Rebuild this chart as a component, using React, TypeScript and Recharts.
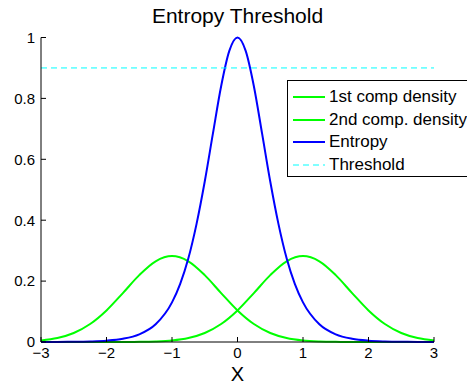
import React from 'react';
import { LineChart, Line, XAxis, YAxis } from 'recharts';

const X_GRID = [-3, -2.75, -2.5, -2.25, -2, -1.75, -1.5, -1.25, -1, -0.75, -0.5, -0.25, 0, 0.25, 0.5, 0.75, 1, 1.25, 1.5, 1.75, 2, 2.25, 2.5, 2.75, 3];
const COMP1 = [0.0052, 0.0132, 0.0297, 0.0591, 0.1037, 0.1607, 0.2196, 0.2649, 0.2821, 0.2649, 0.2196, 0.1607, 0.1037, 0.0591, 0.0297, 0.0132, 0.0052, 0.0018, 0.0005, 0.0001, 0, 0, 0, 0, 0];
const COMP2 = [0, 0, 0, 0, 0, 0.0001, 0.0005, 0.0018, 0.0052, 0.0132, 0.0297, 0.0591, 0.1037, 0.1607, 0.2196, 0.2649, 0.2821, 0.2649, 0.2196, 0.1607, 0.1037, 0.0591, 0.0297, 0.0132, 0.0052];
const ENT_X = [-3, -2.75, -2.5, -2.25, -2, -1.75, -1.5, -1.25, -1, -0.875, -0.75, -0.625, -0.5, -0.375, -0.25, -0.125, 0, 0.125, 0.25, 0.375, 0.5, 0.625, 0.75, 0.875, 1, 1.25, 1.5, 1.75, 2, 2.25, 2.5, 2.75, 3];
const ENTROPY = [0.0001, 0.0003, 0.0007, 0.0018, 0.0043, 0.0105, 0.025, 0.058, 0.13, 0.191, 0.275, 0.388, 0.527, 0.685, 0.84, 0.956, 1.0, 0.956, 0.84, 0.685, 0.527, 0.388, 0.275, 0.191, 0.13, 0.058, 0.025, 0.0105, 0.0043, 0.0018, 0.0007, 0.0003, 0.0001];
const THRESHOLD = 0.9;
const X_TICKS = [-3, -2, -1, 0, 1, 2, 3];
const Y_TICKS = [0, 0.2, 0.4, 0.6, 0.8, 1];
const SERIES_NAMES = ['1st comp density', '2nd comp. density', 'Entropy', 'Threshold'];
const TITLE = 'Entropy Threshold';
const X_LABEL = 'X';

const GREEN = '#00ff00';
const BLUE = '#0000ff';
const CYAN = '#00ffff';
const FONT = '"Liberation Sans", Arial, Helvetica, sans-serif';

const compData = X_GRID.map((x, i) => ({ x, c1: COMP1[i], c2: COMP2[i] }));
const entData = ENT_X.map((x, i) => ({ x, h: ENTROPY[i] }));
const thrData = [
  { x: X_GRID[0], t: THRESHOLD },
  { x: X_GRID[X_GRID.length - 1], t: THRESHOLD },
];

const legendItems = [
  { name: SERIES_NAMES[0], color: GREEN, dash: undefined },
  { name: SERIES_NAMES[1], color: GREEN, dash: undefined },
  { name: SERIES_NAMES[2], color: BLUE, dash: undefined },
  { name: SERIES_NAMES[3], color: CYAN, dash: '6 4' },
];

const fmt = (v: number) => (v < 0 ? '\u2212' + String(Math.abs(v)) : String(v));

export default function App() {
  return (
    <div
      style={{
        position: 'absolute',
        left: 0,
        top: 0,
        width: 467,
        height: 387,
        overflow: 'hidden',
        background: '#fff',
        fontFamily: FONT,
      }}
    >
      <LineChart
        width={467}
        height={387}
        margin={{ top: 37.5, right: 33, bottom: 0, left: 0 }}
        style={{ fontFamily: FONT }}
      >
        <XAxis
          dataKey="x"
          type="number"
          domain={[-3, 3]}
          ticks={X_TICKS}
          tickFormatter={fmt}
          height={45}
          allowDuplicatedCategory={false}
          axisLine={{ stroke: '#000', strokeWidth: 1 }}
          tickLine={{ stroke: '#000' }}
          tickSize={-5}
          tickMargin={10}
          tick={{ fontSize: 15, fill: '#000', fontFamily: FONT }}
          label={{ value: X_LABEL, position: 'insideBottom', offset: 6, fontSize: 20, fill: '#000', fontFamily: FONT }}
        />
        <YAxis
          type="number"
          domain={[0, 1]}
          ticks={Y_TICKS}
          tickFormatter={fmt}
          width={41}
          axisLine={{ stroke: '#000', strokeWidth: 1 }}
          tickLine={{ stroke: '#000' }}
          tickSize={-5}
          tickMargin={11}
          tick={{ fontSize: 15, fill: '#000', fontFamily: FONT }}
        />
        <Line data={compData} dataKey="c1" name={SERIES_NAMES[0]} type="monotone" stroke={GREEN} strokeWidth={2} dot={false} isAnimationActive={false} />
        <Line data={compData} dataKey="c2" name={SERIES_NAMES[1]} type="monotone" stroke={GREEN} strokeWidth={2} dot={false} isAnimationActive={false} />
        <Line data={entData} dataKey="h" name={SERIES_NAMES[2]} type="monotone" stroke={BLUE} strokeWidth={2} dot={false} isAnimationActive={false} />
        <Line data={thrData} dataKey="t" name={SERIES_NAMES[3]} type="linear" stroke={CYAN} strokeWidth={1} strokeDasharray="6 4" dot={false} isAnimationActive={false} />
      </LineChart>
      <div
        style={{
          position: 'absolute',
          left: 41,
          width: 393,
          top: 3.5,
          textAlign: 'center',
          fontSize: 21,
          lineHeight: '24px',
          color: '#000',
        }}
      >
        {TITLE}
      </div>
      <div
        style={{
          position: 'absolute',
          left: 287,
          top: 80,
          width: 200,
          height: 97,
          boxSizing: 'border-box',
          border: '1px solid #000',
          background: '#fff',
          paddingTop: 5,
        }}
      >
        {legendItems.map((it) => (
          <div key={it.name} style={{ display: 'flex', alignItems: 'center', height: 22.5 }}>
            <svg width={32} height={4} style={{ marginLeft: 5, display: 'block', flexShrink: 0 }}>
              <line x1={0} y1={2} x2={32} y2={2} stroke={it.color} strokeWidth={it.dash ? 1 : 2} strokeDasharray={it.dash} />
            </svg>
            <span style={{ marginLeft: 4, fontSize: 17, color: '#000', whiteSpace: 'nowrap' }}>{it.name}</span>
          </div>
        ))}
      </div>
    </div>
  );
}
